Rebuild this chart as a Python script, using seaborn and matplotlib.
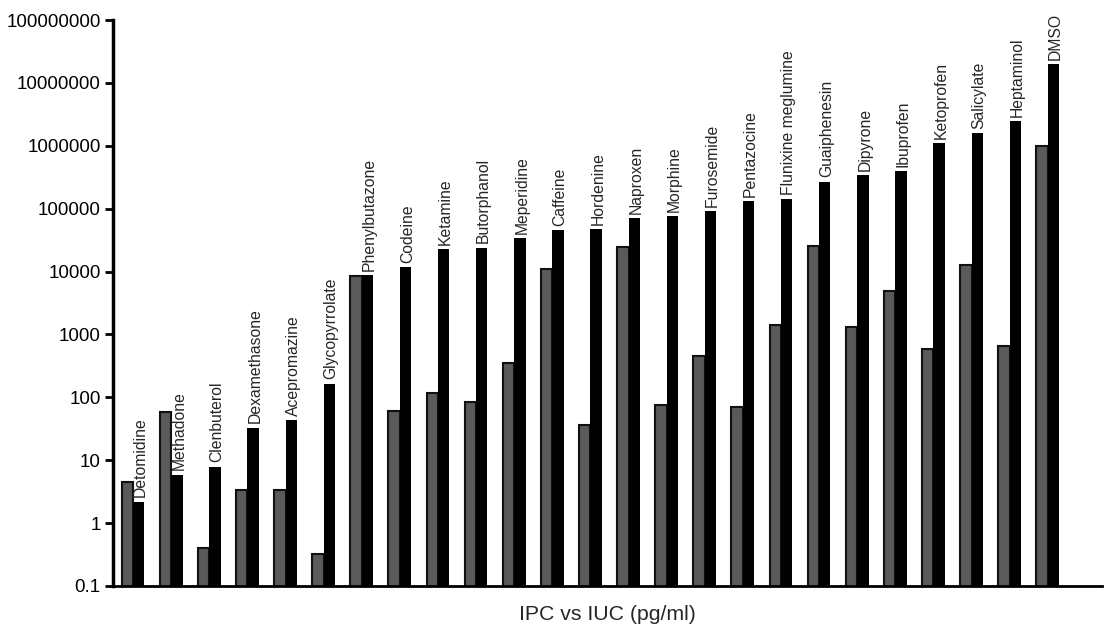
import matplotlib
matplotlib.use("Agg")
import matplotlib.pyplot as plt
import seaborn as sns
import pandas as pd
from matplotlib.ticker import FixedLocator, NullLocator

drugs = ["Detomidine", "Methadone", "Clenbuterol", "Dexamethasone", "Acepromazine",
         "Glycopyrrolate", "Phenylbutazone", "Codeine", "Ketamine", "Butorphanol",
         "Meperidine", "Caffeine", "Hordenine", "Naproxen", "Morphine", "Furosemide",
         "Pentazocine", "Flunixine meglumine", "Guaiphenesin", "Dipyrone", "Ibuprofen",
         "Ketoprofen", "Salicylate", "Heptaminol", "DMSO"]
ipc = [4.5, 58, 0.40, 3.4, 3.3, 0.32, 8500, 60, 115, 85, 355, 11000, 36, 24500,
       76, 450, 70, 1420, 25500, 1300, 4900, 580, 12700, 660, 980000]
iuc = [2.2, 5.9, 7.9, 33, 44, 165, 8700, 11700, 23000, 24000, 34000, 45000, 48000,
       71000, 77000, 91000, 132000, 141000, 270000, 340000, 400000, 1120000,
       1580000, 2500000, 20000000]
series = ["IPC", "IUC"]
ytick_vals = [0.1, 1, 10, 100, 1000, 10000, 100000, 1000000, 10000000, 100000000]
ytick_labels = ["0.1", "1", "10", "100", "1000", "10000", "100000", "1000000",
                "10000000", "100000000"]
xlabel = "IPC vs IUC (pg/ml)"

df = pd.DataFrame({
    "drug": drugs * 2,
    "series": [series[0]] * len(drugs) + [series[1]] * len(drugs),
    "value": ipc + iuc,
})

sns.set_style("white")
plt.rcParams["font.family"] = ["Liberation Sans", "DejaVu Sans"]

fig = plt.figure(figsize=(11.04, 6.26), dpi=100)
ax = fig.add_axes([0.1024, 0.064, 0.896, 0.904])

sns.barplot(data=df, x="drug", y="value", hue="series", order=drugs,
            hue_order=series, palette=["#5a5a5a", "#000000"], width=0.6,
            saturation=1, legend=False, ax=ax)
ax.set_yscale("log")

for p in ax.patches:
    fc = p.get_facecolor()
    if fc[0] > 0.2:
        p.set_edgecolor("#111111")
        p.set_linewidth(1.5)
    else:
        p.set_edgecolor("black")
        p.set_linewidth(0)

for i, (name, v) in enumerate(zip(drugs, iuc)):
    ax.annotate(name, (i + 0.2, v), xytext=(0, 3), textcoords="offset points",
                rotation=90, ha="center", va="bottom", fontsize=11.3)

ax.set_ylim(0.1, 1e8)
ax.set_xlim(-0.525, 25.43)
ax.yaxis.set_major_locator(FixedLocator(ytick_vals))
ax.yaxis.set_minor_locator(NullLocator())
ax.set_yticklabels(ytick_labels, fontsize=13.5)
ax.set_xticks([])
ax.set_xlabel(xlabel, fontsize=15.3, labelpad=14)
ax.set_ylabel("")

for s in ["top", "right"]:
    ax.spines[s].set_visible(False)
ax.spines["left"].set_linewidth(2.5)
ax.spines["bottom"].set_linewidth(2.0)
ax.spines["left"].set_color("black")
ax.spines["bottom"].set_color("black")
ax.tick_params(axis="y", which="major", left=True, length=6, width=2, pad=3,
               colors="black")

fig.savefig("out.png", dpi=100)
